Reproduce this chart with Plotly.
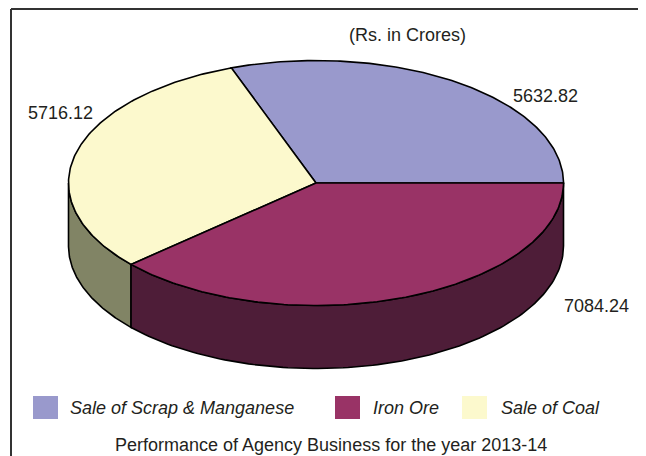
import numpy as np
import plotly.graph_objects as go

# ---- data ----
categories = ["Sale of Scrap & Manganese", "Iron Ore", "Sale of Coal"]
values = [5632.82, 7084.24, 5716.12]
value_labels = ["5632.82", "7084.24", "5716.12"]
title_text = "(Rs. in Crores)"
caption_text = "Performance of Agency Business for the year 2013-14"

# ---- styles ----
top_colors = ["#9999CC", "#993366", "#FCF9CD"]
side_colors = ["#5B5B80", "#4E1D38", "#818465"]
slice_order = [0, 2, 1]          # counter-clockwise drawing order from 3 o'clock
PAGE_W, PAGE_H = 646, 456
OFF = 8                            # browser body margin
W, H = PAGE_W - OFF, PAGE_H - OFF
cx, cy, rx, ry, depth = 316, 183, 247.5, 122.5, 63
label_pos = [(545, 96), (596, 306), (60, 113)]
legend_box_x = [33, 335, 462]
legend_text_x = [68, 371, 499]
FONT = "Liberation Sans, Arial, sans-serif"
TXT = "#231F20"

def ex(t):
    return cx + rx * np.cos(np.radians(t))

def ey(t):
    return cy - ry * np.sin(np.radians(t))

total = sum(values)
angles = {}
start = 0.0
for i in slice_order:
    span = values[i] / total * 360.0
    angles[i] = (start, start + span)
    start += span

fig = go.Figure()

# side faces (front half only: 180..360 deg)
for i in slice_order:
    a, b = angles[i]
    lo, hi = max(a, 180.0), min(b, 360.0)
    if hi <= lo:
        continue
    t = np.linspace(lo, hi, 120)
    xs = np.concatenate([ex(t), ex(t[::-1])])
    ys = np.concatenate([ey(t), ey(t[::-1]) + depth])
    xs = np.append(xs, xs[0])
    ys = np.append(ys, ys[0])
    fig.add_trace(go.Scatter(x=xs, y=ys, mode="lines", fill="toself",
                             fillcolor=side_colors[i],
                             line=dict(color="black", width=1.6),
                             hoverinfo="skip", showlegend=False))

# top faces
for i in slice_order:
    a, b = angles[i]
    t = np.linspace(a, b, 160)
    xs = np.concatenate([[cx], ex(t), [cx]])
    ys = np.concatenate([[cy], ey(t), [cy]])
    fig.add_trace(go.Scatter(x=xs, y=ys, mode="lines", fill="toself",
                             fillcolor=top_colors[i],
                             line=dict(color="black", width=1.6),
                             name=categories[i], hoverinfo="skip",
                             showlegend=False))

annotations = []
for i, (lx, ly) in enumerate(label_pos):
    annotations.append(dict(x=lx, y=ly, xref="x", yref="y", text=value_labels[i],
                            showarrow=False, font=dict(family=FONT, size=18, color=TXT)))
annotations.append(dict(x=407, y=35, xref="x", yref="y", text=title_text, showarrow=False,
                        font=dict(family=FONT, size=18, color=TXT)))
annotations.append(dict(x=331, y=445, xref="x", yref="y", text=caption_text, showarrow=False,
                        font=dict(family=FONT, size=18, color=TXT)))

shapes = [
    dict(type="line", x0=11, y0=9, x1=11, y1=PAGE_H, xref="x", yref="y",
         line=dict(color="#333333", width=2)),
    dict(type="line", x0=11, y0=9, x1=PAGE_W, y1=9, xref="x", yref="y",
         line=dict(color="#333333", width=2)),
]
for i in range(len(categories)):
    shapes.append(dict(type="rect", x0=legend_box_x[i], x1=legend_box_x[i] + 25,
                       y0=396, y1=419, xref="x", yref="y",
                       fillcolor=top_colors[i], line=dict(width=0)))
    annotations.append(dict(x=legend_text_x[i], y=407.5, xref="x", yref="y",
                            text="<i>" + categories[i] + "</i>", showarrow=False,
                            xanchor="left", font=dict(family=FONT, size=18, color=TXT)))

fig.update_layout(
    width=W, height=H,
    margin=dict(l=0, r=0, t=0, b=0),
    paper_bgcolor="white", plot_bgcolor="white",
    xaxis=dict(range=[OFF, PAGE_W], visible=False, fixedrange=True),
    yaxis=dict(range=[PAGE_H, OFF], visible=False, fixedrange=True),
    annotations=annotations, shapes=shapes,
    showlegend=False,
)

fig.write_html("out.html")
